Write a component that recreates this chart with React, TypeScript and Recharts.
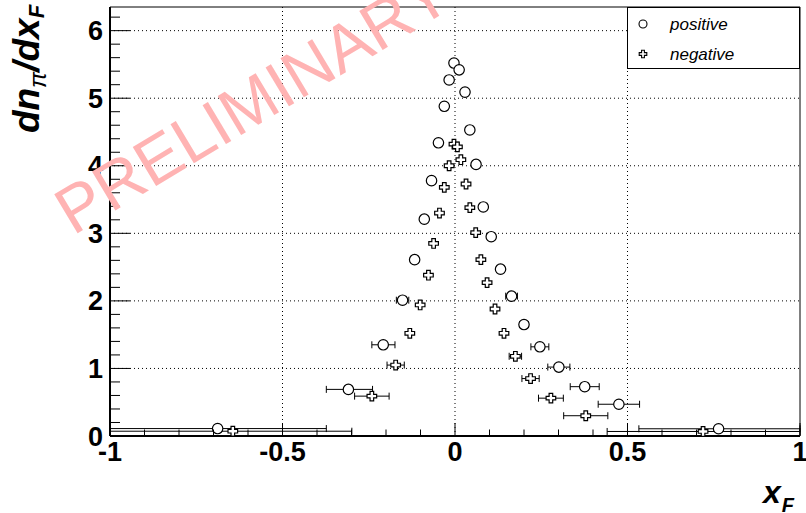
import React from 'react';
import { ScatterChart, Scatter, XAxis, YAxis, ErrorBar, ReferenceLine, ReferenceArea, Legend } from 'recharts';

// pi+ near the peak: bin widths smaller than the markers
const positiveCore = [
  { x: -0.003, y: 5.52 },
  { x: 0.012, y: 5.42 },
  { x: -0.017, y: 5.27 },
  { x: 0.029, y: 5.09 },
  { x: -0.031, y: 4.88 },
  { x: 0.043, y: 4.53 },
  { x: -0.048, y: 4.34 },
  { x: 0.061, y: 4.02 },
  { x: -0.068, y: 3.78 },
  { x: 0.082, y: 3.39 },
  { x: -0.089, y: 3.21 },
  { x: 0.105, y: 2.95 },
  { x: -0.117, y: 2.61 },
  { x: 0.132, y: 2.47 },
];

// pi+ with visible x_F bin widths, ex = [low, high]
const positiveWide = [
  { x: -0.688, y: 0.11, ex: [0.312, 0.315] },
  { x: -0.309, y: 0.69, ex: [0.064, 0.07] },
  { x: -0.208, y: 1.35, ex: [0.033, 0.034] },
  { x: -0.152, y: 2.01, ex: [0.018, 0.018] },
  { x: 0.164, y: 2.07, ex: [0.017, 0.017] },
  { x: 0.2, y: 1.65, ex: [0.013, 0.013] },
  { x: 0.246, y: 1.32, ex: [0.026, 0.026] },
  { x: 0.301, y: 1.02, ex: [0.032, 0.032] },
  { x: 0.376, y: 0.73, ex: [0.042, 0.042] },
  { x: 0.475, y: 0.47, ex: [0.06, 0.06] },
  { x: 0.764, y: 0.107, ex: [0.231, 0.236] },
];

const negativeCore = [
  { x: -0.003, y: 4.32 },
  { x: 0.007, y: 4.28 },
  { x: 0.017, y: 4.09 },
  { x: -0.017, y: 4.0 },
  { x: 0.032, y: 3.73 },
  { x: -0.031, y: 3.68 },
  { x: 0.043, y: 3.38 },
  { x: -0.045, y: 3.3 },
  { x: 0.06, y: 3.01 },
  { x: -0.062, y: 2.85 },
  { x: 0.075, y: 2.61 },
  { x: -0.077, y: 2.38 },
  { x: 0.093, y: 2.27 },
  { x: -0.101, y: 1.94 },
  { x: 0.116, y: 1.88 },
  { x: -0.131, y: 1.52 },
  { x: 0.142, y: 1.52 },
];

const negativeWide = [
  { x: -0.644, y: 0.071, ex: [0.356, 0.345] },
  { x: -0.241, y: 0.59, ex: [0.05, 0.05] },
  { x: -0.172, y: 1.05, ex: [0.025, 0.025] },
  { x: 0.175, y: 1.18, ex: [0.018, 0.018] },
  { x: 0.219, y: 0.85, ex: [0.025, 0.025] },
  { x: 0.278, y: 0.56, ex: [0.036, 0.036] },
  { x: 0.379, y: 0.3, ex: [0.064, 0.064] },
  { x: 0.719, y: 0.067, ex: [0.278, 0.281] },
];

const seriesOrder = ['positive', 'negative'];

const Y_MAX = 6.35;
const xTicks = [-1, -0.9, -0.8, -0.7, -0.6, -0.5, -0.4, -0.3, -0.2, -0.1, 0, 0.1, 0.2, 0.3, 0.4, 0.5, 0.6, 0.7, 0.8, 0.9, 1];
const xLabels = [-1, -0.5, 0, 0.5, 1];
const yTicks = [0, 0.2, 0.4, 0.6, 0.8, 1, 1.2, 1.4, 1.6, 1.8, 2, 2.2, 2.4, 2.6, 2.8, 3, 3.2, 3.4, 3.6, 3.8, 4, 4.2, 4.4, 4.6, 4.8, 5, 5.2, 5.4, 5.6, 5.8, 6, 6.2];
const yLabels = [0, 1, 2, 3, 4, 5, 6];
const gridX = [-0.5, 0, 0.5];
const gridY = [1, 2, 3, 4, 5, 6];

const FONT = '"Liberation Sans", Arial, Helvetica, sans-serif';

// ROOT style: ticks point into the frame
const XTick = ({ x, y, payload }: any) => {
  const v = payload.value;
  const major = xLabels.includes(v);
  const axisY = y - 6;
  return (
    <g>
      <line x1={x} x2={x} y1={axisY} y2={axisY - (major ? 13 : 6.5)} stroke="#000" />
      {major && (
        <text x={x} y={axisY + 25} textAnchor="middle" fontFamily={FONT} fontWeight="bold" fontSize={27} fill="#000">
          {String(v)}
        </text>
      )}
    </g>
  );
};

const YTick = ({ x, y, payload }: any) => {
  const v = payload.value;
  const major = yLabels.includes(v);
  const axisX = x + 7;
  return (
    <g>
      <line x1={axisX} x2={axisX + (major ? 20 : 10)} y1={y} y2={y} stroke="#000" />
      {major && (
        <text x={x} y={y + 9.5} textAnchor="end" fontFamily={FONT} fontWeight="bold" fontSize={27} fill="#000">
          {String(v)}
        </text>
      )}
    </g>
  );
};

const OpenCircle = ({ cx, cy }: any) => (
  <circle cx={cx} cy={cy} r={5.2} fill="#fff" stroke="#000" strokeWidth={1.2} />
);

const crossPath = (cx: number, cy: number, b: number, a: number) =>
  `M${cx - a},${cy - b}H${cx + a}V${cy - a}H${cx + b}V${cy + a}H${cx + a}V${cy + b}H${cx - a}V${cy + a}H${cx - b}V${cy - a}H${cx - a}Z`;

const OpenCross = ({ cx, cy }: any) => (
  <path d={crossPath(cx, cy, 4.8, 1.8)} fill="#fff" stroke="#000" strokeWidth={1.2} />
);

const LegendBox = ({ payload }: any) => {
  // only the named series, in ROOT's order
  const items = (payload || [])
    .filter((it: any) => seriesOrder.includes(it.value))
    .sort((a: any, b: any) => seriesOrder.indexOf(a.value) - seriesOrder.indexOf(b.value));
  return (
    <svg width={173} height={62}>
      <rect x={0.5} y={0.5} width={172} height={61} fill="#fff" stroke="#000" />
      {items.map((it: any, i: number) => {
        const cy = 17 + i * 30;
        return (
          <g key={it.value}>
            {it.value === 'positive' ? (
              <circle cx={16} cy={cy} r={4} fill="none" stroke="#000" strokeWidth={1.1} />
            ) : (
              <path d={crossPath(16, cy, 3.8, 1.4)} fill="none" stroke="#000" strokeWidth={1.1} />
            )}
            <text x={43} y={cy + 6} fontFamily={FONT} fontStyle="italic" fontSize={17} fill="#000">
              {it.value}
            </text>
          </g>
        );
      })}
    </svg>
  );
};

export default function App() {
  return (
    <div style={{ position: 'absolute', left: 0, top: 0, width: 806, height: 513, background: '#fff' }}>
      <ScatterChart width={806} height={513} margin={{ top: 7, right: 6, bottom: 17, left: 10 }}>
        <XAxis
          type="number"
          dataKey="x"
          domain={[-1, 1]}
          ticks={xTicks}
          interval={0}
          height={60}
          tickSize={0}
          tickMargin={6}
          tickLine={false}
          axisLine={{ stroke: '#000', strokeWidth: 2 }}
          tick={<XTick />}
          allowDataOverflow
        />
        <YAxis
          type="number"
          dataKey="y"
          domain={[0, Y_MAX]}
          ticks={yTicks}
          interval={0}
          width={100}
          tickSize={0}
          tickMargin={7}
          tickLine={false}
          axisLine={{ stroke: '#000', strokeWidth: 2 }}
          tick={<YTick />}
          allowDataOverflow
        />
        {gridX.map((v) => (
          <ReferenceLine key={'gx' + v} x={v} stroke="#000" strokeDasharray="1 3" />
        ))}
        {gridY.map((v) => (
          <ReferenceLine key={'gy' + v} y={v} stroke="#000" strokeDasharray="1 3" />
        ))}
        <ReferenceArea x1={-1} x2={1} y1={0} y2={Y_MAX} fill="none" stroke="#000" ifOverflow="visible" />
        <Legend
          layout="horizontal"
          verticalAlign="middle"
          align="center"
          wrapperStyle={{ left: 627, top: 7, width: 173, height: 62 }}
          content={(p: any) => <LegendBox payload={p.payload} />}
        />
        <Scatter name="positive" data={positiveWide} shape={OpenCircle} isAnimationActive={false}>
          <ErrorBar dataKey="ex" direction="x" width={3.5} stroke="#000" strokeWidth={1} isAnimationActive={false} />
        </Scatter>
        <Scatter data={positiveCore} legendType="none" shape={OpenCircle} isAnimationActive={false} />
        <Scatter name="negative" data={negativeWide} shape={OpenCross} isAnimationActive={false}>
          <ErrorBar dataKey="ex" direction="x" width={3.5} stroke="#000" strokeWidth={1} isAnimationActive={false} />
        </Scatter>
        <Scatter data={negativeCore} legendType="none" shape={OpenCross} isAnimationActive={false} />
      </ScatterChart>
      <svg width={806} height={513} style={{ position: 'absolute', left: 0, top: 0, pointerEvents: 'none' }}>
        <text x={73} y={236} transform="rotate(-31 73 236)" fontFamily={FONT} fontSize={66} fill="#ffb3b3">
          PRELIMINARY
        </text>
        <text x={39} y={69} transform="rotate(-90 39 69)" textAnchor="middle" fontFamily={FONT} fontWeight="bold" fontStyle="italic" fontSize={37} fill="#000">
          <tspan>dn</tspan>
          <tspan fontSize={24} fontWeight="normal" dy={7}>π</tspan>
          <tspan dy={-7}>/dx</tspan>
          <tspan fontSize={22} dy={5}>F</tspan>
        </text>
        <text x={763} y={503} fontFamily={FONT} fontWeight="bold" fontStyle="italic" fill="#000">
          <tspan fontSize={32}>x</tspan>
          <tspan fontSize={20} dx={1} dy={9}>F</tspan>
        </text>
      </svg>
    </div>
  );
}
